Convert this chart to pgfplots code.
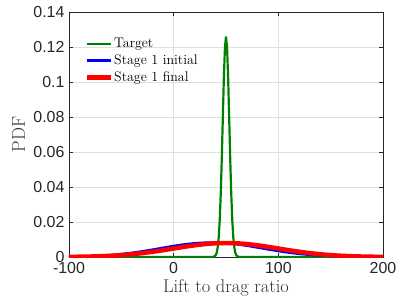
\documentclass[border=0pt]{standalone}
\usepackage{fontspec}
\usepackage{pgfplots}
\pgfplotsset{compat=1.18}
\newfontfamily\hv{Liberation Sans}
\definecolor{mgreen}{rgb}{0,0.5,0}
\begin{document}
\begin{tikzpicture}
\path[use as bounding box] (-69bp,-49bp) rectangle (332bp,257bp);
\begin{axis}[
  at={(0,0)}, anchor=south west,
  scale only axis, width=314bp, height=245bp,
  xmin=-100, xmax=200, ymin=0, ymax=0.14,
  xtick={-100,0,100,200},
  ytick={0,0.02,0.04,0.06,0.08,0.1,0.12,0.14},
  yticklabels={0,0.02,0.04,0.06,0.08,0.1,0.12,0.14},
  xticklabels={-100,0,100,200},
  tick align=inside,
  major tick length=4bp,
  grid=major,
  grid style={draw=black!12, line width=0.6pt},
  axis line style={draw=black!85, line width=0.7pt},
  tick style={draw=black!85, line width=0.6pt},
  tick label style={font=\hv\fontsize{16}{18}\selectfont, text=black!85},
  xticklabel style={yshift=-2bp},
  yticklabel style={xshift=-1bp},
  label style={font=\fontsize{18.5}{20}\selectfont, text=black!80},
  xlabel={Lift to drag ratio},
  ylabel={PDF},
  xlabel style={at={(axis description cs:0.5,0)}, anchor=base, yshift=-35bp},
  ylabel style={at={(axis description cs:0,0.5)}, anchor=base, yshift=44bp},
  legend style={draw=none, fill=none, at={(axis description cs:0.04,0.905)}, anchor=north west,
    font=\fontsize{14}{15}\selectfont, row sep=3.5bp,
    nodes={inner sep=1pt}},
  legend cell align=left,
  legend image code/.code={\draw[#1] (0bp,0bp) -- (24bp,0bp);},
  clip=true,
]
\addplot[mgreen, line width=2.2pt] coordinates {
(-100,0) (35,0) (38,0.0001) (40,0.00087) (41,0.0022) (42,0.0052) (43,0.0110)
(44,0.0210) (45,0.0363) (46,0.0568) (47,0.0805) (48,0.1033) (49,0.1199)
(50,0.1260) (51,0.1199) (52,0.1033) (53,0.0805) (54,0.0568) (55,0.0363)
(56,0.0210) (57,0.0110) (58,0.0052) (59,0.0022) (60,0.00087) (62,0.0001)
(65,0) (200,0)};
\addlegendentry{Target}
\addplot[blue, line width=2.2pt, smooth] coordinates {
(-100,0.000159) (-90,0.000279) (-80,0.000471) (-70,0.000759) (-60,0.00117)
(-50,0.00173) (-40,0.00245) (-30,0.00332) (-20,0.00431) (-10,0.00535)
(0,0.00636) (10,0.00725) (20,0.00790) (30,0.00826) (40,0.00826)
(50,0.00790) (60,0.00725) (70,0.00636) (80,0.00535) (90,0.00431)
(100,0.00332) (110,0.00245) (120,0.00173) (130,0.00117) (140,0.000759)
(150,0.000471) (160,0.000279) (170,0.000159) (180,0.0000866)
(190,0.0000451) (200,0.0000226)};
\addlegendentry{Stage 1 initial}
\addplot[red, line width=4.5pt, smooth] coordinates {
(-100,0.0000889) (-90,0.000159) (-80,0.000272) (-70,0.000449) (-60,0.000711)
(-50,0.00108) (-40,0.00158) (-30,0.00222) (-20,0.00300) (-10,0.00389)
(0,0.00485) (10,0.00581) (20,0.00668) (30,0.00738) (40,0.00784)
(50,0.00800) (60,0.00784) (70,0.00738) (80,0.00668) (90,0.00581)
(100,0.00485) (110,0.00389) (120,0.00300) (130,0.00222) (140,0.00158)
(150,0.00108) (160,0.000711) (170,0.000449) (180,0.000272)
(190,0.000159) (200,0.0000889)};
\addlegendentry{Stage 1 final}
\end{axis}
\end{tikzpicture}
\end{document}
